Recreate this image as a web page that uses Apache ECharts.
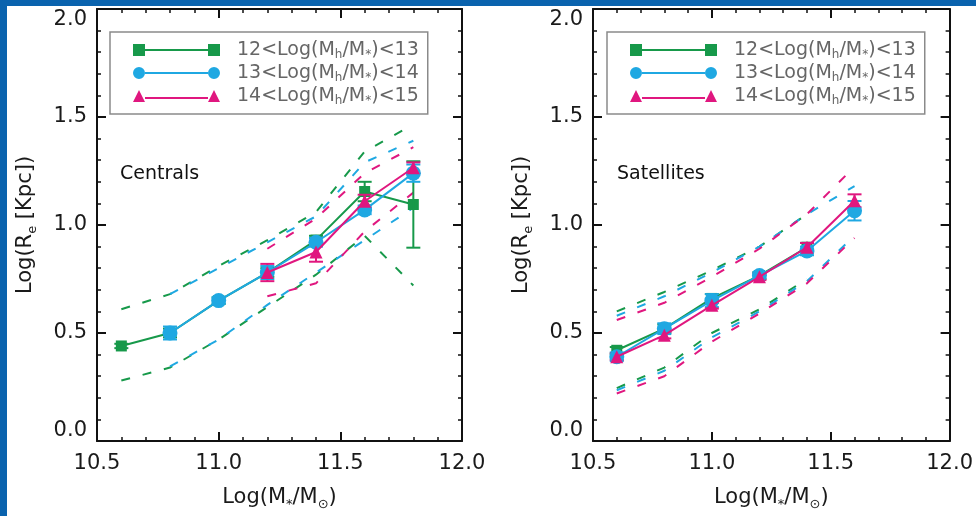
<!DOCTYPE html>
<html><head><meta charset="utf-8">
<script src="https://cdn.jsdelivr.net/npm/echarts@6/dist/echarts.min.js"></script>
<style>html,body{margin:0;padding:0;background:#fff}#c{width:976px;height:516px}</style>
</head><body><div id="c"></div><script>
// ---------- data ----------
const xTickLabels = ['10.5', '11.0', '11.5', '12.0'];
const yTickLabels = ['0.0', '0.5', '1.0', '1.5', '2.0'];
const legendNames = ['L12', 'L13', 'L14'];
const legendTexts = ['12<Log(M{s|h}/M{s|*})<13', '13<Log(M{s|h}/M{s|*})<14', '14<Log(M{s|h}/M{s|*})<15'];
const panelLabels = ['Centrals', 'Satellites'];

// Centrals
const cenX     = [10.6, 10.8, 11.0, 11.2, 11.4, 11.6, 11.8];
const cenG     = [0.44, 0.50, 0.65, 0.78, 0.93, 1.155, 1.095];
const cenGerr  = [0.01, 0.02, 0.015, 0.02, 0.02, 0.045, 0.20];
const cenGup   = [0.61, 0.68, 0.81, 0.93, 1.06, 1.34, 1.465];
const cenGlo   = [0.28, 0.34, 0.47, 0.62, 0.77, 0.95, 0.72];
const cenB     = [null, 0.50, 0.65, 0.78, 0.92, 1.07, 1.24];
const cenBerr  = [null, 0.03, 0.015, 0.03, 0.02, 0.02, 0.04];
const cenBup   = [null, 0.68, 0.80, 0.92, 1.04, 1.29, 1.39];
const cenBlo   = [null, 0.345, 0.47, 0.63, 0.78, 0.93, 1.08];
const cenM     = [null, null, null, 0.78, 0.875, 1.11, 1.265];
const cenMerr  = [null, null, null, 0.04, 0.045, 0.03, 0.025];
const cenMup   = [null, null, null, 0.89, 1.03, 1.24, 1.36];
const cenMlo   = [null, null, null, 0.67, 0.73, 0.97, 1.15];

// Satellites
const satX     = [10.6, 10.8, 11.0, 11.2, 11.4, 11.6];
const satG     = [0.42, 0.52, 0.66, 0.766, 0.897, null];
const satGerr  = [0.015, 0.02, 0.02, 0.015, 0.02, null];
const satGup   = [0.60, 0.69, 0.79, 0.90, 1.05, null];
const satGlo   = [0.245, 0.34, 0.50, 0.61, 0.75, null];
const satB     = [0.39, 0.52, 0.65, 0.766, 0.88, 1.066];
const satBerr  = [0.02, 0.025, 0.03, 0.015, 0.02, 0.045];
const satBup   = [0.58, 0.67, 0.78, 0.90, 1.05, 1.18];
const satBlo   = [0.235, 0.325, 0.48, 0.60, 0.74, 0.95];
const satM     = [0.39, 0.49, 0.628, 0.76, 0.897, 1.112];
const satMerr  = [0.015, 0.015, 0.015, 0.015, 0.02, 0.03];
const satMup   = [0.56, 0.64, 0.76, 0.89, 1.05, 1.27];
const satMlo   = [0.22, 0.30, 0.46, 0.59, 0.73, 0.94];

// ---------- style ----------
const FONT = 'DejaVu Sans';
const COLORS = ['#17994a', '#1fa8e2', '#e0177f'];
const SYMBOLS = ['rect', 'circle', 'triangle'];
const SYMSIZE = [11, 15, 13];
const ICONS = [
  'path://M0,0h12v12h-12zM75,0h12v12h-12zM12,5h63v2h-63z',
  'path://M0,6a6,6 0 1,0 12,0a6,6 0 1,0 -12,0zM75,6a6,6 0 1,0 12,0a6,6 0 1,0 -12,0zM12,5h63v2h-63z',
  'path://M0,12L6,0L12,12zM75,12L81,0L87,12zM12,7h63v2h-63z'
];
const AX = '#111';

function pairs(xs, ys) { const r = []; xs.forEach((x, i) => { if (ys[i] != null) r.push([x, ys[i]]); }); return r; }
function triples(xs, ys, es) { const r = []; xs.forEach((x, i) => { if (ys[i] != null) r.push([x, ys[i], es[i]]); }); return r; }

function xAxes(g) {
  const base = {
    gridIndex: g, type: 'value', min: 10.5, max: 12.0, interval: 0.5,
    axisLine: { show: true, onZero: false, lineStyle: { color: AX, width: 2 } },
    axisTick: { show: true, inside: true, length: 9, lineStyle: { color: AX, width: 2 } },
    minorTick: { show: true, splitNumber: 5, length: 4, lineStyle: { color: AX, width: 1.5 } },
    splitLine: { show: false }, minorSplitLine: { show: false }
  };
  return [
    Object.assign({}, base, {
      position: 'bottom',
      axisLabel: { show: true, margin: 12, fontSize: 21, color: '#1a1a1a', fontFamily: FONT,
        formatter: v => xTickLabels[Math.round((v - 10.5) / 0.5)] },
      name: 'Log(M{s|*}/M{s|⊙})', nameLocation: 'middle', nameGap: 44,
      nameTextStyle: { fontSize: 21, color: '#1a1a1a', fontFamily: FONT, lineHeight: 26,
        rich: { s: { fontSize: 13, fontFamily: FONT, color: '#1a1a1a', verticalAlign: 'bottom', lineHeight: 13 } } }
    }),
    Object.assign({}, base, { position: 'top', axisLabel: { show: false } })
  ];
}
function yAxes(g) {
  const base = {
    gridIndex: g, type: 'value', min: 0, max: 2.0, interval: 0.5,
    axisLine: { show: true, onZero: false, lineStyle: { color: AX, width: 2 } },
    axisTick: { show: true, inside: true, length: 9, lineStyle: { color: AX, width: 2 } },
    minorTick: { show: true, splitNumber: 5, length: 4, lineStyle: { color: AX, width: 1.5 } },
    splitLine: { show: false }, minorSplitLine: { show: false }
  };
  return [
    Object.assign({}, base, {
      position: 'left',
      axisLabel: { show: true, margin: 10, fontSize: 21, color: '#1a1a1a', fontFamily: FONT,
        verticalAlignMinLabel: 'bottom', verticalAlignMaxLabel: 'top',
        formatter: v => yTickLabels[Math.round(v / 0.5)] },
      name: 'Log(R{s|e} [Kpc])', nameLocation: 'middle', nameGap: 58, nameRotate: 90,
      nameTextStyle: { fontSize: 21, color: '#1a1a1a', fontFamily: FONT, lineHeight: 26,
        rich: { s: { fontSize: 13, fontFamily: FONT, color: '#1a1a1a', verticalAlign: 'bottom', lineHeight: 13 } } }
    }),
    Object.assign({}, base, { position: 'right', axisLabel: { show: false } })
  ];
}

function errorSeries(axisIdx, data, color) {
  return {
    type: 'custom', xAxisIndex: axisIdx, yAxisIndex: axisIdx, z: 4, silent: true,
    data: data,
    renderItem: function (params, api) {
      const x = api.value(0), y = api.value(1), e = api.value(2);
      const t = api.coord([x, y + e]), b = api.coord([x, y - e]);
      const hw = 7;
      const st = { stroke: color, lineWidth: 2 };
      return { type: 'group', children: [
        { type: 'line', shape: { x1: t[0], y1: t[1], x2: b[0], y2: b[1] }, style: st },
        { type: 'line', shape: { x1: t[0] - hw, y1: t[1], x2: t[0] + hw, y2: t[1] }, style: st },
        { type: 'line', shape: { x1: b[0] - hw, y1: b[1], x2: b[0] + hw, y2: b[1] }, style: st }
      ] };
    }
  };
}

function panelSeries(axisIdx, xs, groups) {
  const out = [];
  groups.forEach((gr, k) => {
    [gr.up, gr.lo].forEach(arr => out.push({
      type: 'line', name: legendNames[k] + '_band', xAxisIndex: axisIdx, yAxisIndex: axisIdx,
      data: pairs(xs, arr), symbol: 'none', z: 2, silent: true,
      lineStyle: { color: COLORS[k], width: 2, type: [9, 13] }
    }));
  });
  groups.forEach((gr, k) => {
    out.push({
      type: 'line', name: legendNames[k], xAxisIndex: axisIdx, yAxisIndex: axisIdx,
      data: pairs(xs, gr.v), symbol: SYMBOLS[k], symbolSize: SYMSIZE[k], z: 3 + k,
      lineStyle: { color: COLORS[k], width: 2 }, itemStyle: { color: COLORS[k] }
    });
    out.push(errorSeries(axisIdx, triples(xs, gr.v, gr.e), COLORS[k]));
  });
  return out;
}

function legendFor(left) {
  return {
    left: left, top: 32, orient: 'vertical',
    data: legendNames.map((n, i) => ({ name: n, icon: ICONS[i] })),
    itemWidth: 87, itemHeight: 12, itemGap: 1,
    selectedMode: false,
    borderColor: '#8a8a8a', borderWidth: 1.5,
    padding: [7, 9, 7, 23],
    itemStyle: { borderWidth: 0 },
    formatter: name => legendTexts[legendNames.indexOf(name)],
    textStyle: { fontSize: 19, color: '#666', fontFamily: FONT, lineHeight: 22, padding: [0, 0, 0, 12],
      rich: { s: { fontSize: 12, color: '#666', fontFamily: FONT, verticalAlign: 'bottom', lineHeight: 12 } } }
  };
}

const chart = echarts.init(document.getElementById('c'), null, { renderer: 'canvas' });
chart.setOption({
  animation: false,
  backgroundColor: '#ffffff',
  grid: [
    { left: 97, top: 9, width: 365, height: 434, containLabel: false },
    { left: 593, top: 9, width: 365, height: 434, containLabel: false }
  ],
  xAxis: xAxes(0).concat(xAxes(1)),
  yAxis: yAxes(0).concat(yAxes(1)),
  legend: [legendFor(110), legendFor(607)],
  graphic: [
    { type: 'rect', left: 0, top: 0, shape: { width: 7, height: 516 }, style: { fill: '#0a63ae' }, z: 100 },
    { type: 'rect', left: 0, top: 0, shape: { width: 976, height: 6 }, style: { fill: '#0a63ae' }, z: 100 },
    { type: 'text', left: 120, top: 165, style: { text: panelLabels[0], fontSize: 19, fontFamily: FONT, fill: '#111' } },
    { type: 'text', left: 617, top: 165, style: { text: panelLabels[1], fontSize: 19, fontFamily: FONT, fill: '#111' } }
  ],
  series: [].concat(
    panelSeries(0, cenX, [
      { v: cenG, e: cenGerr, up: cenGup, lo: cenGlo },
      { v: cenB, e: cenBerr, up: cenBup, lo: cenBlo },
      { v: cenM, e: cenMerr, up: cenMup, lo: cenMlo }
    ]),
    panelSeries(2, satX, [
      { v: satG, e: satGerr, up: satGup, lo: satGlo },
      { v: satB, e: satBerr, up: satBup, lo: satBlo },
      { v: satM, e: satMerr, up: satMup, lo: satMlo }
    ])
  )
});
</script></body></html>
